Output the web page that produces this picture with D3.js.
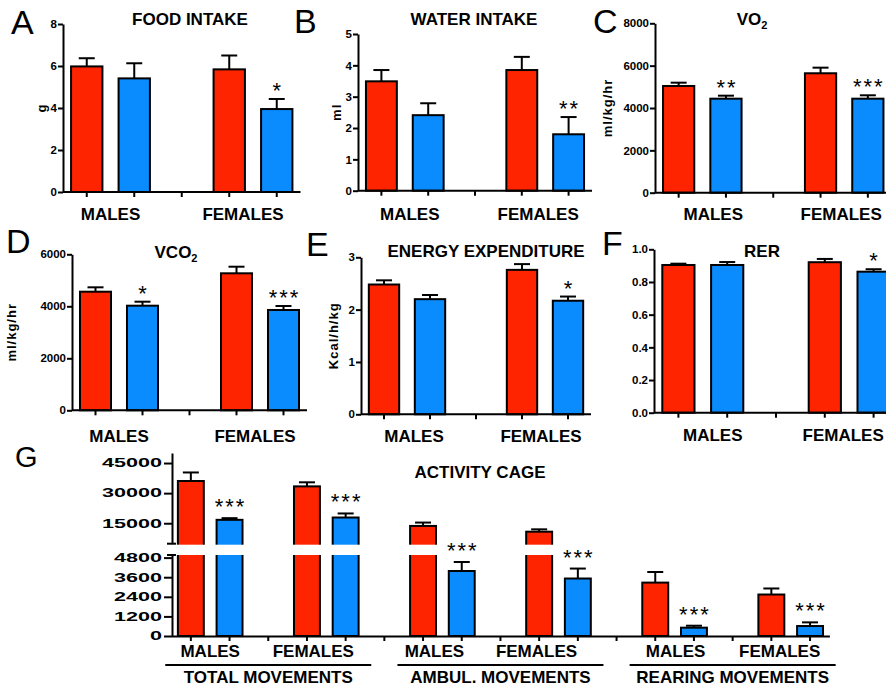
<!DOCTYPE html>
<html><head><meta charset="utf-8">
<script src="https://cdn.jsdelivr.net/npm/d3@7"></script>
<style>body{margin:0;background:#fff}svg{display:block}</style>
</head><body><svg id="c" width="886" height="686"></svg>
<script>
// ---------------- DATA ----------------
const slots = ["M_CTRL", "M_TRT", "GAP", "F_CTRL", "F_TRT"];
const sexLabels = ["MALES", "FEMALES"];
// order of values: [males red, males blue, females red, females blue]
const foodMean = [5.98, 5.41, 5.84, 3.95];
const foodSem  = [0.39, 0.72, 0.66, 0.48];
const foodSig  = ["", "", "", "*"];
const waterMean = [3.49, 2.41, 3.85, 1.80];
const waterSem  = [0.36, 0.38, 0.42, 0.55];
const waterSig  = ["", "", "", "**"];
const vo2Mean = [5040, 4440, 5640, 4440];
const vo2Sem  = [156, 142, 265, 160];
const vo2Sig  = ["", "**", "", "***"];
const vco2Mean = [4561, 4023, 5269, 3858];
const vco2Sem  = [169, 154, 254, 153];
const vco2Sig  = ["", "*", "", "***"];
const eeMean = [2.48, 2.20, 2.76, 2.17];
const eeSem  = [0.08, 0.08, 0.11, 0.08];
const eeSig  = ["", "", "", "*"];
const rerMean = [0.904, 0.904, 0.921, 0.863];
const rerSem  = [0.008, 0.018, 0.020, 0.015];
const rerSig  = ["", "", "", "*"];

const foodTicks = [0, 2, 4, 6, 8];
const waterTicks = [0, 1, 2, 3, 4, 5];
const vo2Ticks = [0, 2000, 4000, 6000, 8000];
const vco2Ticks = [0, 2000, 4000, 6000];
const eeTicks = [0, 1, 2, 3];
const rerTicks = [0, 0.2, 0.4, 0.6, 0.8, 1.0];

// Activity cage (panel G)
const actGroups = ["TOTAL MOVEMENTS", "AMBUL. MOVEMENTS", "REARING MOVEMENTS"];
const totalMean = [36050, 16690, 33370, 17850];
const totalSem  = [4250, 840, 2020, 2020];
const ambulMean = [13650, 3980, 10780, 3520];
const ambulSem  = [1680, 550, 1180, 610];
const rearMean  = [3270, 510, 2540, 610];
const rearSem   = [650, 120, 370, 225];
const actSig = [["", "***", "", "***"], ["", "***", "", "***"], ["", "***", "", "***"]];
const actUpperTicks = [15000, 30000, 45000];
const actLowerTicks = [0, 1200, 2400, 3600, 4800];
const actBreak = 4800;

// ---------------- STYLE / LAYOUT ----------------
const RED = "#ff2400", BLUE = "#0a8cff";
const FONT = "'Liberation Sans', Arial, sans-serif";
const svg = d3.select("#c");

const panels = [
  {letter:"A", lx:11, ly:34, title:["FOOD INTAKE"], tx:190, ty:25, mean:foodMean, sem:foodSem, sig:foodSig,
   ticks:foodTicks, fmt:d3.format("d"), ax:63, step:47.5, yTop:24, yBot:192, ylabel:"g", ylx:41, labDx:[0,-10], labY:220},
  {letter:"B", lx:294, ly:33, title:["WATER INTAKE"], tx:474, ty:25, mean:waterMean, sem:waterSem, sig:waterSig,
   ticks:waterTicks, fmt:d3.format("d"), ax:358, step:46.8, yTop:34, yBot:190.7, ylabel:"ml", ylx:336, labDx:[5,-7], labY:220},
  {letter:"C", lx:593, ly:33, title:["VO","2"], tx:752, ty:25, mean:vo2Mean, sem:vo2Sem, sig:vo2Sig,
   ticks:vo2Ticks, fmt:d3.format("d"), ax:655, step:47.3, yTop:23.3, yBot:192.7, ylabel:"ml/kg/hr", ylx:607, labDx:[11,-3], labY:220},
  {letter:"D", lx:6, ly:253, title:["VCO","2"], tx:176, ty:258, mean:vco2Mean, sem:vco2Sem, sig:vco2Sig,
   ticks:vco2Ticks, fmt:d3.format("d"), ax:72, step:47, yTop:254.3, yBot:410.3, ylabel:"ml/kg/hr", ylx:11, labDx:[0,-5], labY:442},
  {letter:"E", lx:306, ly:256, title:["ENERGY EXPENDITURE"], tx:486, ty:257, mean:eeMean, sem:eeSem, sig:eeSig,
   ticks:eeTicks, fmt:d3.format("d"), ax:361, step:46, yTop:257.3, yBot:414.3, ylabel:"Kcal/h/kg", ylx:333, labDx:[7,-4], labY:442},
  {letter:"F", lx:602, ly:255, title:["RER"], tx:762, ty:257, mean:rerMean, sem:rerSem, sig:rerSig,
   ticks:rerTicks, fmt:d3.format(".1f"), ax:654, step:48.8, yTop:249.3, yBot:412.7, ylabel:"", ylx:0, labDx:[10,-6], labY:441}
];
const valueSlots = [0, 1, 3, 4];

function styleAxis(g, fs) {
  g.selectAll("path,line").attr("stroke", "#000").attr("stroke-width", 2);
  g.selectAll("text").attr("font-family", FONT).attr("font-weight", "bold").attr("font-size", fs).attr("fill", "#000");
}
function star(g, x, y, s) {
  g.append("text").attr("x", x + 1).attr("y", y).attr("text-anchor", "middle")
    .attr("font-family", FONT).attr("font-size", 22).attr("letter-spacing", 2).text(s);
}

panels.forEach(p => {
  const g = svg.append("g");
  const x = d3.scaleBand().domain(slots).range([p.ax, p.ax + 5 * p.step]).paddingInner(0.34).paddingOuter(0.17);
  const ymax = p.ticks[p.ticks.length - 1];
  const y = d3.scaleLinear().domain([0, ymax]).range([p.yBot, p.yTop]);
  const bw = x.bandwidth();
  const data = p.mean.map((m, i) => ({m, s: p.sem[i], sig: p.sig[i], slot: slots[valueSlots[i]], col: i % 2 ? BLUE : RED}));

  data.forEach(d => {
    const cx = x(d.slot) + bw / 2;
    g.append("line").attr("x1", cx).attr("x2", cx).attr("y1", y(d.m)).attr("y2", y(d.m + d.s)).attr("stroke", "#000").attr("stroke-width", 2);
    g.append("line").attr("x1", cx - 8).attr("x2", cx + 8).attr("y1", y(d.m + d.s)).attr("y2", y(d.m + d.s)).attr("stroke", "#000").attr("stroke-width", 2);
    if (d.sig) star(g, cx, y(d.m + d.s) - 1, d.sig);
  });
  g.selectAll("rect.bar").data(data).join("rect").attr("class", "bar")
    .attr("x", d => x(d.slot)).attr("width", bw)
    .attr("y", d => y(d.m)).attr("height", d => y(0) - y(d.m))
    .attr("fill", d => d.col).attr("stroke", "#000").attr("stroke-width", 2);

  const yAxis = g.append("g").attr("transform", `translate(${p.ax},0)`)
    .call(d3.axisLeft(y).tickValues(p.ticks).tickFormat(p.fmt).tickSize(5).tickSizeOuter(0).tickPadding(1));
  styleAxis(yAxis, 11.5);
  const xAxis = g.append("g").attr("transform", `translate(0,${p.yBot})`)
    .call(d3.axisBottom(x).tickFormat("").tickSize(5).tickSizeOuter(0));
  styleAxis(xAxis, 11);
  xAxis.select("path").attr("d", `M${p.ax},0H${p.ax + 5 * p.step}`);

  sexLabels.forEach((s, k) => {
    const a = x(slots[k * 3]) + bw / 2, b = x(slots[k * 3 + 1]) + bw / 2;
    g.append("text").attr("x", (a + b) / 2 + p.labDx[k]).attr("y", p.labY).attr("text-anchor", "middle")
      .attr("font-family", FONT).attr("font-weight", "bold").attr("font-size", 17).text(s);
  });
  const t = g.append("text").attr("x", p.tx).attr("y", p.ty).attr("text-anchor", "middle")
    .attr("font-family", FONT).attr("font-weight", "bold").attr("font-size", 17);
  t.append("tspan").text(p.title[0]);
  if (p.title[1]) t.append("tspan").attr("font-size", 11).attr("dy", 4).text(p.title[1]);
  if (p.ylabel) {
    g.append("text").attr("transform", `translate(${p.ylx},${(p.yTop + p.yBot) / 2}) rotate(-90)`)
      .attr("text-anchor", "middle").attr("dominant-baseline", "central")
      .attr("font-family", FONT).attr("font-weight", "bold").attr("font-size", 13).attr("letter-spacing", 1).text(p.ylabel);
  }
  g.append("text").attr("x", p.lx).attr("y", p.ly).attr("font-family", FONT)
    .attr("font-size", 34).text(p.letter);
});

// ---------------- PANEL G ----------------
(function () {
  const g = svg.append("g");
  const ax = 172, y0 = 636, gapTop = 543.7, gapBot = 555;
  const gSlots = d3.range(17).map(String);
  const x = d3.scaleBand().domain(gSlots).range([171.5, 171.5 + 17 * 38.7]).paddingInner(0.33).paddingOuter(0.165);
  const bw = x.bandwidth();
  const yLow = d3.scaleLinear().domain([0, 4960]).range([y0, gapBot]);
  const yHigh = d3.scaleLinear().domain([actBreak, 50000]).range([gapTop, 453]);
  const gy = v => v <= actBreak ? yLow(v) : yHigh(v);
  const series = [[totalMean, totalSem], [ambulMean, ambulSem], [rearMean, rearSem]];
  const data = [];
  series.forEach((s, gi) => s[0].forEach((m, i) => data.push({
    m, s: s[1][i], sig: actSig[gi][i], slot: String(gi * 6 + valueSlots[i]), col: i % 2 ? BLUE : RED })));

  data.forEach(d => {
    const cx = x(d.slot) + bw / 2;
    g.append("line").attr("x1", cx).attr("x2", cx).attr("y1", gy(d.m)).attr("y2", gy(d.m + d.s)).attr("stroke", "#000").attr("stroke-width", 2);
    g.append("line").attr("x1", cx - 8).attr("x2", cx + 8).attr("y1", gy(d.m + d.s)).attr("y2", gy(d.m + d.s)).attr("stroke", "#000").attr("stroke-width", 2);
  });
  g.selectAll("rect.bar").data(data).join("rect").attr("class", "bar")
    .attr("x", d => x(d.slot)).attr("width", bw)
    .attr("y", d => gy(d.m)).attr("height", d => y0 - gy(d.m))
    .attr("fill", d => d.col).attr("stroke", "#000").attr("stroke-width", 2);
  // break gap
  g.append("rect").attr("x", ax + 2).attr("y", gapTop + 1).attr("width", 660).attr("height", gapBot - gapTop - 1).attr("fill", "#fff");
  data.forEach(d => { if (d.sig) star(g, x(d.slot) + bw / 2, gy(d.m + d.s) - 4, d.sig); });

  const s = 1.8;
  const up = g.append("g").attr("transform", `translate(${ax},0)`)
    .call(d3.axisLeft(yHigh).tickValues(actUpperTicks).tickFormat(d3.format("d")).tickSize(8).tickSizeOuter(0));
  const lo = g.append("g").attr("transform", `translate(${ax},0)`)
    .call(d3.axisLeft(yLow).tickValues(actLowerTicks).tickFormat(d3.format("d")).tickSize(8).tickSizeOuter(0));
  [up, lo].forEach(a => {
    styleAxis(a, 12);
    a.selectAll("text").attr("transform", `scale(${s},1)`).attr("x", -10 / s);
  });
  [gapTop, gapBot].forEach(yy => g.append("line").attr("x1", ax - 5).attr("x2", ax + 4).attr("y1", yy).attr("y2", yy)
    .attr("stroke", "#000").attr("stroke-width", 2));

  const xa = g.append("g").attr("transform", `translate(0,${y0})`)
    .call(d3.axisBottom(x).tickFormat("").tickSize(5).tickSizeOuter(0));
  styleAxis(xa, 11);

  const labDx = [[0, -13], [-8, -22], [1, -11]];
  actGroups.forEach((name, gi) => {
    const c = k => x(String(gi * 6 + k)) + bw / 2;
    [0, 1].forEach(k => g.append("text").attr("x", (c(k * 3) + c(k * 3 + 1)) / 2 + labDx[gi][k]).attr("y", 657)
      .attr("text-anchor", "middle").attr("font-family", FONT).attr("font-weight", "bold").attr("font-size", 17).text(sexLabels[k]));
    const mid = (c(0) + c(4)) / 2;
    g.append("line").attr("x1", mid - 103).attr("x2", mid + 103).attr("y1", 665).attr("y2", 665).attr("stroke", "#000").attr("stroke-width", 2);
    g.append("text").attr("x", mid).attr("y", 683).attr("text-anchor", "middle").attr("font-family", FONT)
      .attr("font-weight", "bold").attr("font-size", 17).text(name);
  });
  g.append("text").attr("x", 480).attr("y", 478).attr("text-anchor", "middle").attr("font-family", FONT)
    .attr("font-weight", "bold").attr("font-size", 17).text("ACTIVITY CAGE");
  g.append("text").attr("x", 15).attr("y", 467).attr("font-family", FONT).attr("font-size", 29).text("G");
})();
</script></body></html>
